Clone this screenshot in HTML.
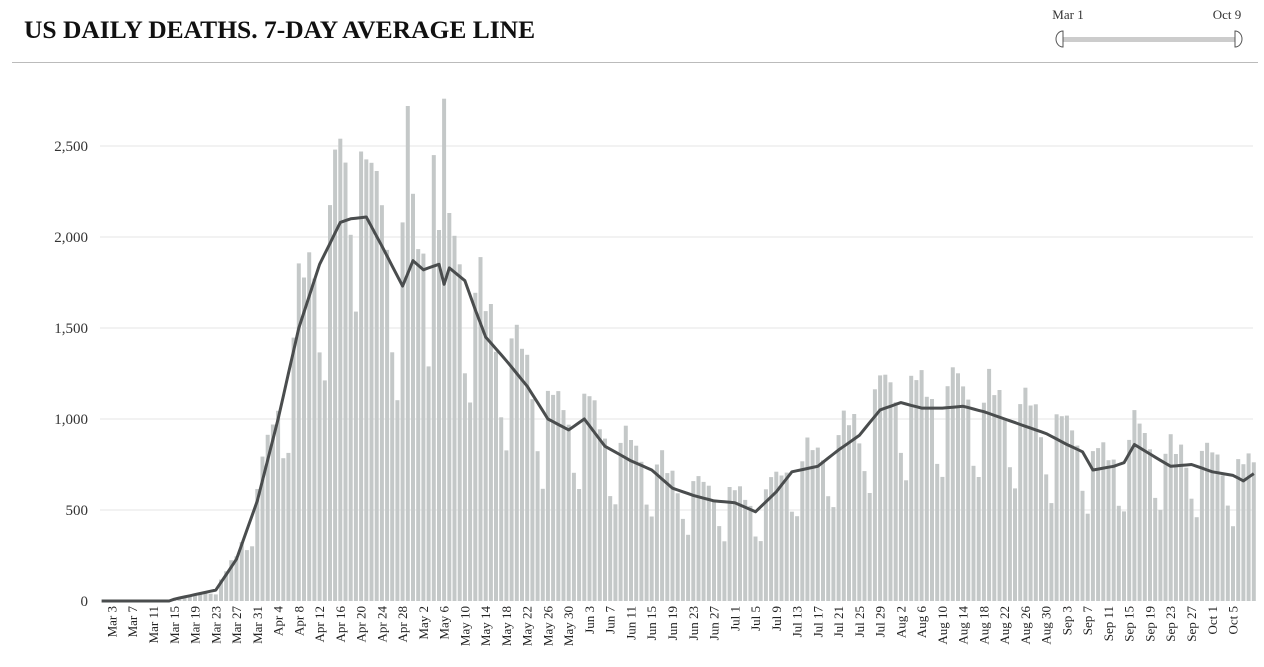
<!DOCTYPE html>
<html><head><meta charset="utf-8"><style>
body{margin:0;background:#fff;width:1264px;height:662px;overflow:hidden;font-family:"Liberation Serif",serif}
</style></head><body>
<svg id="s" width="1264" height="662" xmlns="http://www.w3.org/2000/svg" font-family="Liberation Serif, serif">
<text x="24" y="38" font-size="25.5" font-weight="bold" fill="#111">US DAILY DEATHS. 7-DAY AVERAGE LINE</text>
<line x1="12" y1="62.5" x2="1258" y2="62.5" stroke="#bbb"/>
<text x="1068" y="19" font-size="13" fill="#333" text-anchor="middle">Mar 1</text>
<text x="1227" y="19" font-size="13" fill="#333" text-anchor="middle">Oct 9</text>
<rect x="1061" y="37" width="176" height="5" fill="#ccc"/>
<path d="M1063 31 A7 8 0 0 0 1063 47 Z" fill="#fff" stroke="#555"/>
<path d="M1235 31 A7 8 0 0 1 1235 47 Z" fill="#fff" stroke="#555"/>
<g id="g"></g>
</svg>
<script>
var g=document.getElementById('g'),h='';
var y0=601,k=455/2500,x0=101.6,dx=5.19;
[0,500,1000,1500,2000,2500].forEach(function(v){var y=y0-v*k;
 if(v>0)h+='<line x1="100" x2="1253" y1="'+y+'" y2="'+y+'" stroke="#e6e6e6"/>';
 h+='<text x="88" y="'+(y+5)+'" font-size="15" fill="#333" text-anchor="end">'+v.toLocaleString('en-US')+'</text>';});
var K=[[0,0],[13,0],[14,10],[22,60],[26,230],[30,550],[34,1000],[38,1500],[42,1850],[46,2080],[48,2100],[51,2110],[54,1950],[58,1730],[60,1870],[62,1820],[65,1850],[66,1740],[67,1830],[70,1760],[72,1600],[74,1450],[78,1320],[82,1180],[86,1000],[90,940],[93,1000],[97,850],[102,770],[106,720],[110,620],[114,580],[118,550],[122,540],[126,490],[130,600],[133,710],[138,740],[142,830],[146,910],[150,1050],[154,1090],[158,1060],[162,1060],[166,1070],[170,1040],[174,1000],[178,960],[182,920],[186,860],[189,820],[191,720],[195,740],[197,760],[199,860],[203,790],[206,740],[210,750],[214,710],[218,690],[220,660],[222,700]];
function av(d){for(var i=0;i<K.length-1;i++)if(d>=K[i][0]&&d<=K[i+1][0]){var t=(d-K[i][0])/(K[i+1][0]-K[i][0]);return K[i][1]+t*(K[i+1][1]-K[i][1]);}return 700;}
var W=[0.72,0.62,1.1,1.18,1.14,1.1,1.0];
var sp={59:2720,66:2760,64:2450,46:2540,50:2470,58:2080};
var m=['Mar','Apr','May','Jun','Jul','Aug','Sep','Oct'],ml=[31,30,31,30,31,31,30,31];
var pts=[];
for(var d=0;d<223;d++){var a=av(d);var v=sp[d]||a*W[d%7]*(0.95+0.1*Math.abs(Math.sin(d*1.7)));
 var x=x0+d*dx-2;var hh=v*k;
 if(d>12)h+='<rect x="'+x.toFixed(1)+'" y="'+(y0-hh).toFixed(1)+'" width="4" height="'+hh.toFixed(1)+'" fill="#c4c8c8"/>';
 pts.push((x0+d*dx).toFixed(1)+','+(y0-a*k).toFixed(1));}
h+='<polyline points="'+pts.join(' ')+'" fill="none" stroke="#4a4d4e" stroke-width="3" stroke-linejoin="round"/>';
for(var d=2;d<220;d+=4){var r=d,mi=0;while(r>=ml[mi]){r-=ml[mi];mi++;}
 var x=x0+d*dx+4.5;h+='<text transform="translate('+x.toFixed(1)+',606) rotate(-90)" font-size="13" fill="#222" text-anchor="end">'+m[mi]+' '+(r+1)+'</text>';}
g.innerHTML=h;
</script>
</body></html>
